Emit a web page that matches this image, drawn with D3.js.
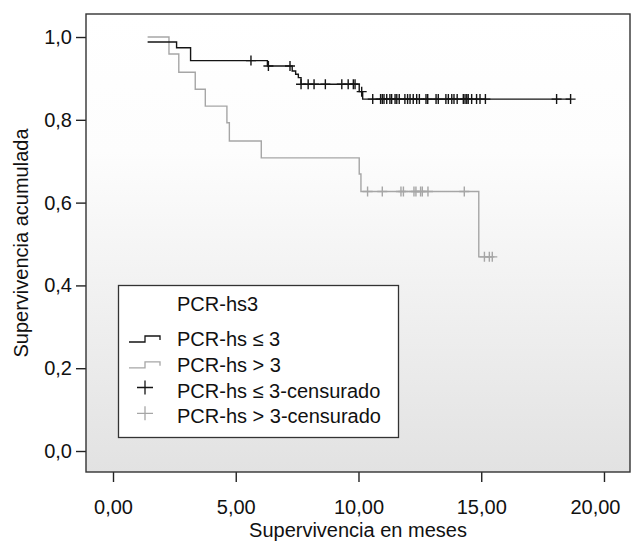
<!DOCTYPE html>
<html>
<head>
<meta charset="utf-8">
<script src="https://cdn.jsdelivr.net/npm/d3@7"></script>
<style>
    body { margin: 0; background: #ffffff; }
    svg { display: block; font-family: 'Liberation Sans', Arial, sans-serif; }
</style>
</head>
<body>
<svg id="kmChart" width="631" height="541"></svg>
<script>
// Kaplan-Meier: PCR-hs <= 3
var stepTimesLow = [1.41, 2.59, 3.16, 6.29, 7.30, 7.44, 7.55, 7.66, 10.03, 10.17];
var stepSurvLow = [0.988, 0.974, 0.943, 0.930, 0.918, 0.910, 0.902, 0.886, 0.868, 0.850];
var censorLow = [5.62, 6.33, 7.21, 7.66, 7.95, 8.19, 8.65, 9.32, 9.58, 9.79, 9.86, 10.13,
    10.58, 10.90, 10.97, 11.04, 11.15, 11.28, 11.35, 11.49, 11.56, 11.66, 11.89, 12.00,
    12.10, 12.23, 12.37, 12.48, 12.75, 12.82, 13.16, 13.25, 13.56, 13.66, 13.80, 13.89,
    14.02, 14.27, 14.34, 14.41, 14.47, 14.61, 14.81, 14.95, 15.17, 18.07, 18.64];

// Kaplan-Meier: PCR-hs > 3
var stepTimesHigh = [1.41, 2.28, 2.68, 3.35, 3.76, 4.64, 4.74, 6.04, 10.03, 10.10, 14.90];
var stepSurvHigh = [1.000, 0.959, 0.915, 0.874, 0.833, 0.793, 0.749, 0.708, 0.669, 0.627, 0.469];
var censorHigh = [10.37, 10.97, 11.73, 11.83, 12.26, 12.34, 12.53, 12.60, 12.83, 14.31,
    15.13, 15.33, 15.45];

var xTicks = [0, 5, 10, 15, 20];
var yTicks = [0, 0.2, 0.4, 0.6, 0.8, 1.0];
var legendTitle = 'PCR-hs3';
var legendLabels = ['PCR-hs \u2264 3', 'PCR-hs > 3', 'PCR-hs \u2264 3-censurado', 'PCR-hs > 3-censurado'];

var frame = { left: 86, right: 630, top: 14, bottom: 472 };
var colBlack = '#141414';
var colGrey = '#a6a6a6';

var svg = d3.select('#kmChart');

var x = d3.scaleLinear()
    .domain([-1.1, 21.06])
    .range([frame.left, frame.right]);

var y = d3.scaleLinear()
    .domain([-0.0507, 1.0556])
    .range([frame.bottom, frame.top]);

// achtergrond verloop
var defs = svg.append('defs');
var grad = defs.append('linearGradient')
    .attr('id', 'bgGrad')
    .attr('x1', 0).attr('y1', 0)
    .attr('x2', 0).attr('y2', 1);
grad.append('stop').attr('offset', '0%').attr('stop-color', '#ffffff');
grad.append('stop').attr('offset', '30%').attr('stop-color', '#fdfdfd');
grad.append('stop').attr('offset', '100%').attr('stop-color', '#e2e2e2');

svg.append('rect')
    .attr('x', frame.left)
    .attr('y', frame.top)
    .attr('width', frame.right - frame.left)
    .attr('height', frame.bottom - frame.top)
    .attr('fill', 'url(#bgGrad)');

function commaFormat(f) {
    return function(d) {
        return d3.format(f)(d).replace('.', ',');
    };
}

// AXES
var yAxis = svg.append('g')
    .attr('transform', 'translate(' + frame.left + ',0)')
    .call(
        d3.axisLeft(y)
            .tickValues(yTicks)
            .tickSize(10)
            .tickPadding(4)
            .tickFormat(commaFormat('.1f'))
    );

var xAxis = svg.append('g')
    .attr('transform', 'translate(0,' + frame.bottom + ')')
    .call(
        d3.axisBottom(x)
            .tickValues(xTicks)
            .tickSize(10)
            .tickPadding(18)
            .tickFormat(commaFormat('.2f'))
    );

[yAxis, xAxis].forEach(function(ax) {
    ax.select('.domain').remove();
    ax.attr('font-size', '20px')
        .attr('font-family', "'Liberation Sans', Arial, sans-serif");
    ax.selectAll('.tick line')
        .attr('stroke', '#222')
        .attr('stroke-width', 1.4);
    ax.selectAll('.tick text').attr('fill', '#111');
});

// laatste label binnen de rand houden
xAxis.selectAll('.tick:last-of-type text')
    .attr('text-anchor', 'end')
    .attr('x', 16);

// step function helpers
function survAt(times, surv, t) {
    var v = surv[0];
    for (var i = 0; i < times.length; i++) {
        if (times[i] <= t) v = surv[i];
    }
    return v;
}

function stepPoints(times, surv, endTime) {
    var pts = times.map(function(t, i) { return [t, surv[i]]; });
    pts.push([endTime, surv[surv.length - 1]]);
    return pts;
}

var stepLine = d3.line()
    .x(function(d) { return x(d[0]); })
    .y(function(d) { return y(d[1]); })
    .curve(d3.curveStepAfter);

var groups = [
    { times: stepTimesHigh, surv: stepSurvHigh, censor: censorHigh, color: colGrey },
    { times: stepTimesLow, surv: stepSurvLow, censor: censorLow, color: colBlack }
];

groups.forEach(function(g) {
    svg.append('path')
        .datum(stepPoints(g.times, g.surv, d3.max(g.censor)))
        .attr('d', stepLine)
        .attr('fill', 'none')
        .attr('stroke', g.color)
        .attr('stroke-width', 1.4);

    svg.selectAll(null)
        .data(g.censor)
        .enter()
        .append('path')
        .attr('d', function(d) {
            var cx = x(d), cy = y(survAt(g.times, g.surv, d));
            return 'M' + (cx - 5) + ',' + cy + 'H' + (cx + 5) +
                'M' + cx + ',' + (cy - 5) + 'V' + (cy + 5);
        })
        .attr('fill', 'none')
        .attr('stroke', g.color)
        .attr('stroke-width', 1.4);
});

// frame
svg.append('rect')
    .attr('x', frame.left)
    .attr('y', frame.top)
    .attr('width', frame.right - frame.left)
    .attr('height', frame.bottom - frame.top)
    .attr('fill', 'none')
    .attr('stroke', '#333')
    .attr('stroke-width', 1.4);

// LEGEND
var legend = svg.append('g').attr('font-size', '20px').attr('fill', '#111');

legend.append('rect')
    .attr('x', 118.5)
    .attr('y', 285.5)
    .attr('width', 280)
    .attr('height', 152)
    .attr('fill', '#ffffff')
    .attr('stroke', '#333')
    .attr('stroke-width', 1.3);

legend.append('text')
    .attr('x', 177)
    .attr('y', 311)
    .text(legendTitle);

legend.selectAll('.legend__label')
    .data(legendLabels)
    .enter()
    .append('text')
    .attr('class', 'legend__label')
    .attr('x', 177)
    .attr('y', function(d, i) { return 346 + i * 25.8; })
    .text(function(d) { return d; });

var legendColors = [colBlack, colGrey];
legendColors.forEach(function(c, i) {
    var yb = 342 + i * 25.8;
    legend.append('path')
        .attr('d', 'M129,' + yb + 'H145V' + (yb - 6) + 'H160V' + (yb - 2))
        .attr('fill', 'none')
        .attr('stroke', c)
        .attr('stroke-width', 1.3);

    var py = 387.5 + i * 25.8;
    legend.append('path')
        .attr('d', 'M137,' + py + 'H153M145,' + (py - 7) + 'V' + (py + 7))
        .attr('fill', 'none')
        .attr('stroke', c)
        .attr('stroke-width', 1.3);
});

// axis titles
svg.append('text')
    .attr('x', (frame.left + frame.right) / 2)
    .attr('y', 537)
    .attr('text-anchor', 'middle')
    .attr('font-size', '20px')
    .attr('fill', '#111')
    .text('Supervivencia en meses');

svg.append('text')
    .attr('transform', 'translate(28,' + ((frame.top + frame.bottom) / 2) + ') rotate(-90)')
    .attr('text-anchor', 'middle')
    .attr('font-size', '20px')
    .attr('fill', '#111')
    .text('Supervivencia acumulada');
</script>
</body>
</html>
